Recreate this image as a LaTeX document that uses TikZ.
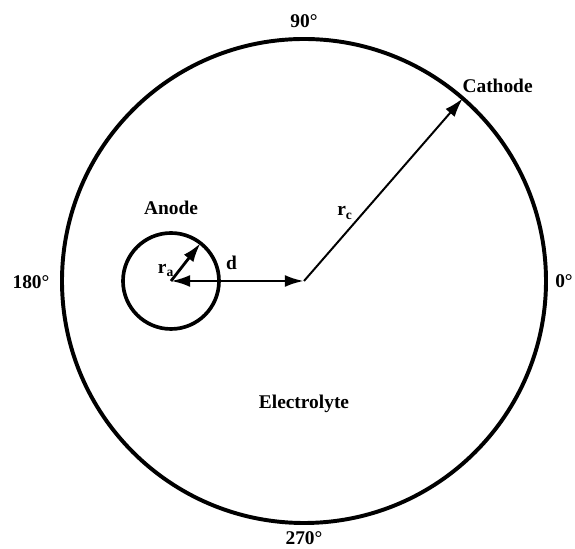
\documentclass[tikz,border=0pt]{standalone}
\usepackage{fontspec}
\setmainfont{Liberation Serif}
\usetikzlibrary{arrows.meta}

\begin{document}
\begin{tikzpicture}[
        lbl/.style={font=\fontsize{13.8}{16}\selectfont\bfseries, inner sep=0pt, anchor=base},
        wall/.style={draw, circle, line width=2.8pt, inner sep=0pt, outer sep=0pt},
        arrow/.style={-{Latex[length=4.8mm, width=3mm]}, line width=1.4pt},
        darrow/.style={{Latex[length=4.8mm, width=3mm]}-{Latex[length=4.8mm, width=3mm]}, line width=2pt}
    ]
        \useasboundingbox (-7.6, -6.7) rectangle (6.775, 7.025);

        % Electrodes
        \node[wall, minimum size=12.1cm] (cell) at (0, 0) {};
        \node[wall, line width=2.6pt, minimum size=2.4cm] (anode) at (-3.325, 0) {};

        % Angle marks
        \node[lbl] (deg90) at (0, 6.325) {90\textdegree};
        \node[lbl] (deg270) at (0, -6.6) {270\textdegree};
        \node[lbl] (deg180) at (-6.825, -0.2) {180\textdegree};
        \node[lbl] (deg0) at (6.5, -0.17) {0\textdegree};

        % Labels
        \node[lbl] (anodelbl) at (-3.325, 1.65) {Anode};
        \node[lbl] (cathodelbl) at (4.84, 4.71) {Cathode};
        \node[lbl] (electrolyte) at (0, -3.2) {Electrolyte};
        \node[lbl] (ralbl) at (-3.45, 0.19) {r$_{\mathbf{a}}$};
        \node[lbl] (dlbl) at (-1.81, 0.275) {d};
        \node[lbl] (rclbl) at (1.025, 1.625) {r$_{\mathbf{c}}$};

        % Radii and distance
        \draw[arrow] (cell.center) -- (cell.49);
        \draw[arrow, line width=2pt] (anode.center) -- (anode.52);
        \draw[darrow] (anode.center) -- (cell.center);
    \end{tikzpicture}
\end{document}
